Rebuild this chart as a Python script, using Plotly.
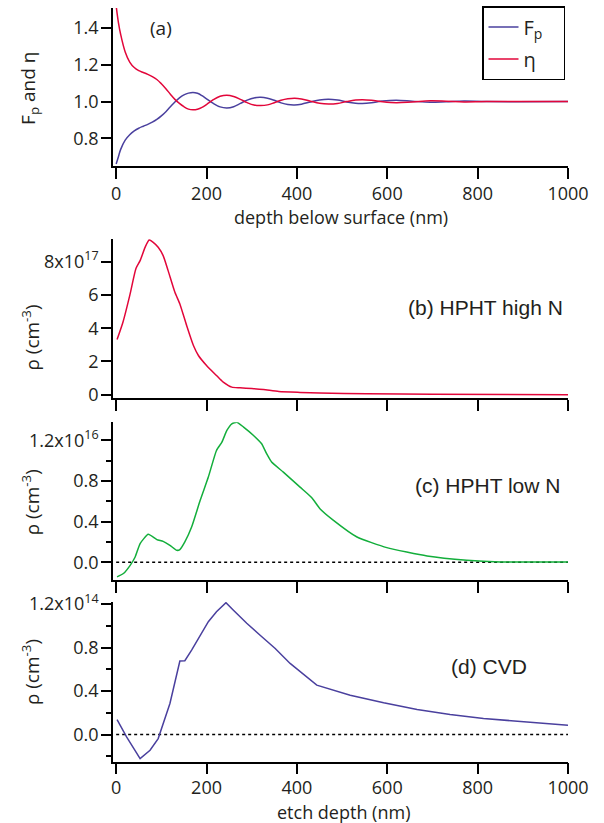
import plotly.graph_objects as go

# ---------------- data ----------------
fp_x = [0, 5, 10, 20, 30, 40, 50, 60, 70, 80, 90, 100, 110, 120, 130, 140, 150, 160, 170, 180,
        190, 200, 215, 230, 245, 260, 275, 290, 305, 320, 335, 350, 365, 380, 395, 410, 430, 450,
        470, 490, 510, 530, 545, 565, 590, 620, 655, 695, 730, 770, 820, 1000]
fp_y = [0.66, 0.70, 0.74, 0.79, 0.82, 0.84, 0.855, 0.866, 0.876, 0.888, 0.903, 0.922, 0.945, 0.972,
        0.998, 1.02, 1.036, 1.046, 1.05, 1.045, 1.032, 1.015, 0.99, 0.971, 0.965, 0.972, 0.99, 1.008,
        1.02, 1.023, 1.018, 1.007, 0.993, 0.984, 0.982, 0.986, 0.998, 1.009, 1.013, 1.008, 0.998,
        0.991, 0.99, 0.994, 1.003, 1.007, 1.002, 0.996, 0.999, 1.003, 1.0, 1.0]
eta_x = fp_x
eta_y = [1.52, 1.43, 1.365, 1.27, 1.215, 1.185, 1.168, 1.158, 1.148, 1.136, 1.12, 1.097, 1.07, 1.04,
         1.012, 0.99, 0.972, 0.959, 0.955, 0.958, 0.968, 0.984, 1.01, 1.029, 1.035, 1.028, 1.012,
         0.994, 0.981, 0.978, 0.982, 0.994, 1.007, 1.015, 1.018, 1.014, 1.002, 0.991, 0.987, 0.99,
         1.0, 1.008, 1.01, 1.007, 0.999, 0.994, 0.998, 1.004, 1.002, 0.998, 1.0, 1.0]

b_x = [2, 15, 30, 44, 53, 64, 73, 82, 93, 104, 115, 130, 141, 156, 171, 182, 200, 222, 237, 256,
       274, 300, 326, 360, 407, 450, 555, 700, 1000]
b_y = [3.32, 4.36, 5.96, 7.6, 8.06, 8.86, 9.3, 9.16, 8.86, 8.36, 7.46, 6.16, 5.46, 4.16, 2.96, 2.36,
       1.76, 1.16, 0.76, 0.46, 0.42, 0.38, 0.32, 0.2, 0.14, 0.1, 0.06, 0.03, 0.0]  # x1e17

c_x = [2, 16, 31, 42, 53, 71, 90, 104, 119, 134, 141, 152, 167, 186, 204, 222, 234, 245, 256, 267,
       282, 304, 322, 333, 344, 370, 407, 433, 451, 481, 533, 599, 688, 776, 850, 1000]
c_y = [-0.144, -0.111, -0.03, 0.052, 0.184, 0.275, 0.223, 0.206, 0.167, 0.118, 0.125, 0.2, 0.347,
       0.61, 0.839, 1.101, 1.183, 1.298, 1.364, 1.38, 1.331, 1.249, 1.167, 1.069, 0.987, 0.888,
       0.74, 0.636, 0.528, 0.413, 0.249, 0.144, 0.062, 0.02, 0.003, 0.003]  # x1e16

d_x = [2, 23, 53, 75, 93, 104, 119, 141, 152, 167, 186, 204, 222, 243, 259, 289, 318, 352, 385,
       422, 444, 518, 592, 666, 739, 813, 887, 1000]
d_y = [0.138, -0.022, -0.221, -0.145, -0.037, 0.101, 0.285, 0.676, 0.679, 0.777, 0.915, 1.038,
       1.13, 1.213, 1.146, 1.023, 0.915, 0.792, 0.654, 0.531, 0.454, 0.362, 0.292, 0.23, 0.184,
       0.147, 0.123, 0.086]  # x1e14

zero_x = [0, 1000]
zero_y = [0, 0]

x_ticks = [0, 200, 400, 600, 800, 1000]
a_ticks = [0.8, 1.0, 1.2, 1.4]
b_ticks = [0, 2, 4, 6, 8]
cd_ticks = [0.0, 0.4, 0.8, 1.2]
c_minor = [0.2, 0.6, 1.0]
d_minor = [-0.2, 0.2, 0.6, 1.0]

RED = "#E2063A"
BLUE = "#4A409E"
GREEN = "#13AE3B"
INK = "#231F20"
TICKFONT = dict(family="Open Sans", size=18, color=INK)

fig = go.Figure()
fig.add_trace(go.Scatter(x=fp_x, y=fp_y, mode="lines", line=dict(color=BLUE, width=1.5, shape="spline"),
                         name="F<sub>p</sub>\u00a0\u00a0\u00a0", legendgroup="fp", xaxis="x", yaxis="y"))
fig.add_trace(go.Scatter(x=eta_x, y=eta_y, mode="lines", line=dict(color=RED, width=1.5, shape="spline"),
                         name="η", legendgroup="eta", xaxis="x", yaxis="y"))
fig.add_trace(go.Scatter(x=b_x, y=[v * 1e17 for v in b_y], mode="lines",
                         line=dict(color=RED, width=1.5, shape="spline", smoothing=0.6),
                         showlegend=False, xaxis="x2", yaxis="y2"))
fig.add_trace(go.Scatter(x=zero_x, y=zero_y, mode="lines", line=dict(color="black", width=1.5, dash="3px,3px"),
                         showlegend=False, xaxis="x3", yaxis="y3"))
fig.add_trace(go.Scatter(x=c_x, y=[v * 1e16 for v in c_y], mode="lines",
                         line=dict(color=GREEN, width=1.5, shape="spline", smoothing=0.5),
                         showlegend=False, xaxis="x3", yaxis="y3"))
fig.add_trace(go.Scatter(x=zero_x, y=zero_y, mode="lines", line=dict(color="black", width=1.5, dash="3px,3px"),
                         showlegend=False, xaxis="x4", yaxis="y4"))
fig.add_trace(go.Scatter(x=d_x, y=[v * 1e14 for v in d_y], mode="lines",
                         line=dict(color=BLUE, width=1.5),
                         showlegend=False, xaxis="x4", yaxis="y4"))

PT, PB, PH = 7, 762, 755
def yd(top_px, bot_px):
    return [(PB - bot_px) / PH, (PB - top_px) / PH]

common_x = dict(range=[-7, 1000], showline=True, linecolor="black", linewidth=1.5,
                ticks="outside", ticklen=11, tickwidth=1.5, tickcolor="black",
                tickmode="array", tickvals=x_ticks, showgrid=False, zeroline=False,
                tickfont=TICKFONT, domain=[0, 1], automargin=False, ticklabelstandoff=0)
common_y = dict(showline=True, linecolor="black", linewidth=1.5, ticks="outside", ticklen=10,
                tickwidth=1.5, tickcolor="black", showgrid=False, zeroline=False, tickfont=TICKFONT,
                tickmode="array", automargin=False, ticklabelstandoff=-1)

layout = dict(
    template="none",
    width=604, height=823, margin=dict(l=113, r=36, t=PT, b=823 - PB, pad=0),
    paper_bgcolor="white", plot_bgcolor="white",
    font=dict(family="Open Sans", color=INK),
    xaxis=dict(common_x, anchor="y", showticklabels=True),
    xaxis2=dict(common_x, anchor="y2", showticklabels=False),
    xaxis3=dict(common_x, anchor="y3", showticklabels=False),
    xaxis4=dict(common_x, anchor="y4", showticklabels=True, ticklabelstandoff=-2),
    yaxis=dict(common_y, anchor="x", domain=yd(7, 165.3), range=[0.649, 1.509],
               tickvals=a_ticks, ticktext=["%.1f" % v for v in a_ticks]),
    yaxis2=dict(common_y, anchor="x2", domain=yd(238.3, 397.3), range=[-0.18e17, 9.36e17],
                tickvals=[v * 1e17 for v in b_ticks],
                ticktext=[str(v) for v in b_ticks[:-1]] + ["8x10<sup>17</sup>"]),
    yaxis3=dict(common_y, anchor="x3", domain=yd(421.7, 579.7), range=[-0.174e16, 1.38e16],
                tickvals=[v * 1e16 for v in cd_ticks],
                ticktext=["%.1f" % v for v in cd_ticks[:-1]] + ["1.2x10<sup>16</sup>"],
                minor=dict(tickmode="array", tickvals=[v * 1e16 for v in c_minor], ticks="outside",
                           ticklen=5, tickwidth=1.5, tickcolor="black")),
    yaxis4=dict(common_y, anchor="x4", domain=yd(601.7, 761.7), range=[-0.25e14, 1.22e14],
                tickvals=[v * 1e14 for v in cd_ticks],
                ticktext=["%.1f" % v for v in cd_ticks[:-1]] + ["1.2x10<sup>14</sup>"],
                minor=dict(tickmode="array", tickvals=[v * 1e14 for v in d_minor], ticks="outside",
                           ticklen=5, tickwidth=1.5, tickcolor="black")),
    showlegend=True,
    legend=dict(x=(565 - 113) / 455, y=(PB - 6) / PH, xanchor="right", yanchor="top",
                bordercolor="black", borderwidth=1.5, bgcolor="white",
                font=dict(family="Open Sans", size=20, color=INK),
                tracegroupgap=3, itemwidth=30),
)
fig.update_layout(layout)

def px2x(px):
    return (px - 113) / 455

def px2y(py):
    return (PB - py) / PH

ann = []
ann.append(dict(text="(a)", x=px2x(161), y=px2y(27), font=dict(family="Open Sans", size=19, color=INK)))
LAB = dict(family="Liberation Sans", size=21, color=INK)
ann.append(dict(text="(b) HPHT high N", x=px2x(485.5), y=px2y(306.7), font=LAB))
ann.append(dict(text="(c) HPHT low N", x=px2x(487.5), y=px2y(485), font=LAB))
ann.append(dict(text="(d) CVD", x=px2x(489), y=px2y(666), font=LAB))
TF = dict(family="Open Sans", size=18, color=INK)
ann.append(dict(text="depth below surface (nm)", x=px2x(341), y=px2y(216), font=TF))
ann.append(dict(text="etch depth (nm)", x=px2x(343), y=px2y(812), font=TF))
YF = dict(family="Open Sans", size=19, color=INK)
ann.append(dict(text="F<sub>p</sub> and η", x=px2x(29), y=px2y(88), font=YF, textangle=-90))
for cy in (337, 502, 672):
    ann.append(dict(text="ρ (cm<sup>-3</sup>)", x=px2x(31), y=px2y(cy), font=YF, textangle=-90))
for a in ann:
    a.update(xref="paper", yref="paper", showarrow=False, xanchor="center", yanchor="middle")
fig.update_layout(annotations=ann)

fig.write_html("out.html", post_script="document.body.style.margin='0';",
               config={"displayModeBar": False})
